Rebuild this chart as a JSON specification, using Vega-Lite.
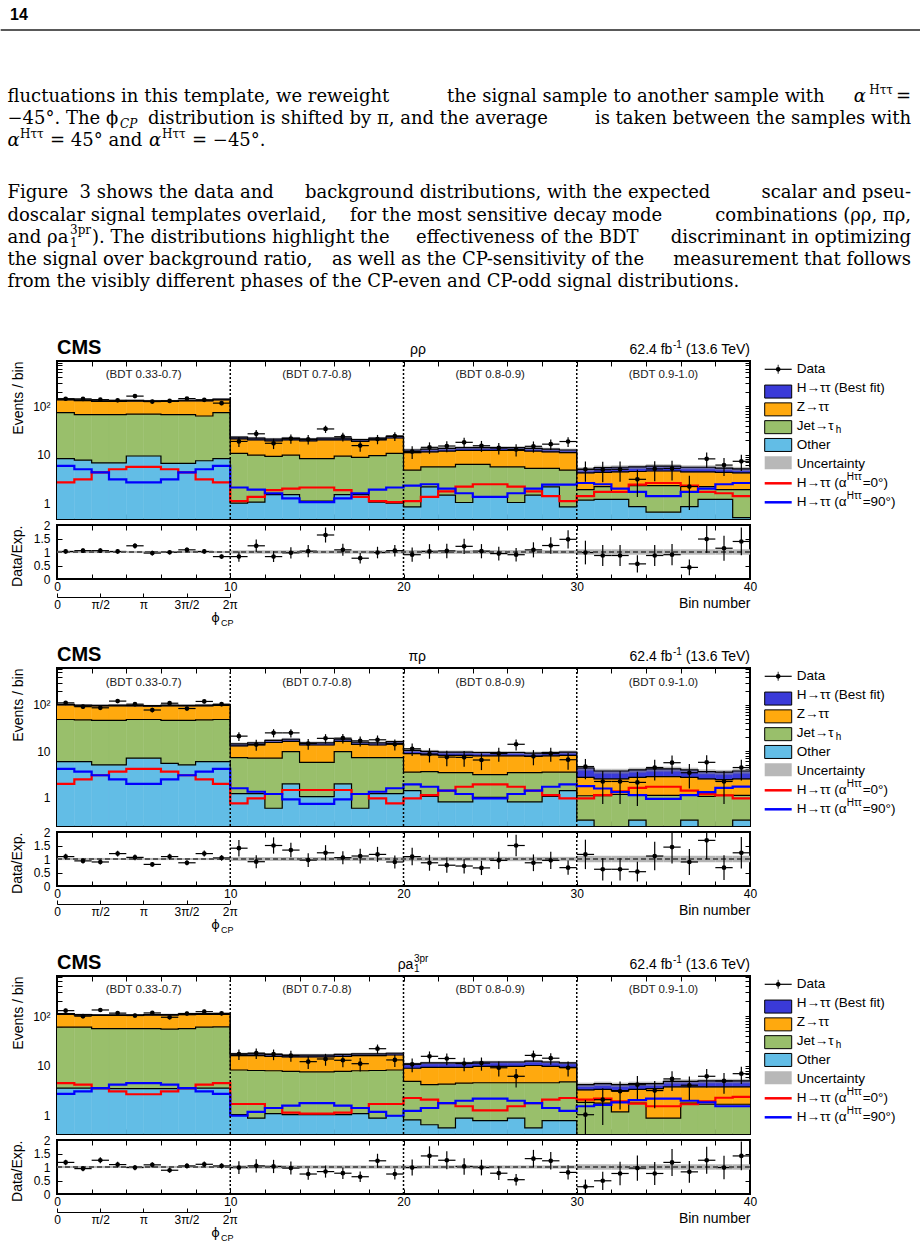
{
"$schema": "https://vega.github.io/schema/vega-lite/v6.json",
"padding": 0,
"background": "#ffffff",
"config": {
 "view": {"stroke": "#000000", "strokeWidth": 2},
 "font": "Liberation Sans",
 "axis": {"grid": false, "domain": false, "tickColor": "#000000", "tickWidth": 1, "tickSize": -5, "labelColor": "#000000", "labelFont": "Liberation Sans", "labelFontSize": 12, "titleFont": "Liberation Sans", "titleFontSize": 14, "titleFontWeight": "normal", "titleColor": "#000000", "labelOverlap": false, "labelFlush": false},
 "text": {"font": "Liberation Sans", "color": "#000000"}
},
"datasets": {
 "regions": [
  {"lo": 0, "hi": 10, "mid": 5, "label": "(BDT 0.33-0.7)"},
  {"lo": 10, "hi": 20, "mid": 15, "label": "(BDT 0.7-0.8)"},
  {"lo": 20, "hi": 30, "mid": 25, "label": "(BDT 0.8-0.9)"},
  {"lo": 30, "hi": 40, "mid": 35, "label": "(BDT 0.9-1.0)"}
 ],
 "legend": [
  {"i": 0, "kind": "data", "t": "Data"},
  {"i": 1, "kind": "sig", "t": "H→ττ (Best fit)"},
  {"i": 2, "kind": "z", "t": "Z→ττ"},
  {"i": 3, "kind": "jet", "t": "Jet→τ", "sub": "h"},
  {"i": 4, "kind": "other", "t": "Other"},
  {"i": 5, "kind": "unc", "t": "Uncertainty"},
  {"i": 6, "kind": "a0", "t": "H→ττ (α", "sup": "Hττ", "tail": "=0°)"},
  {"i": 7, "kind": "a90", "t": "H→ττ (α", "sup": "Hττ", "tail": "=90°)"}
 ],
 "hist": [
  {"p":"rr","b":0,"o":8.3,"j":74,"z":136,"h":140,"s0":2.67,"s90":5.9,"d":143,"r":1.02,"u":0.04},
  {"p":"rr","b":1,"o":7.7,"j":67,"z":131,"h":135,"s0":3.1,"s90":5.0,"d":142,"r":1.05,"u":0.04},
  {"p":"rr","b":2,"o":6.8,"j":67,"z":126,"h":130,"s0":4.3,"s90":4.3,"d":137,"r":1.05,"u":0.04},
  {"p":"rr","b":3,"o":6.8,"j":67,"z":126,"h":130,"s0":5.0,"s90":3.1,"d":133,"r":1.02,"u":0.04},
  {"p":"rr","b":4,"o":9.4,"j":69,"z":128,"h":132,"s0":5.6,"s90":2.67,"d":162,"r":1.23,"u":0.04},
  {"p":"rr","b":5,"o":9.4,"j":69,"z":126,"h":130,"s0":5.6,"s90":2.67,"d":125,"r":0.96,"u":0.04},
  {"p":"rr","b":6,"o":6.6,"j":67,"z":126,"h":130,"s0":5.0,"s90":3.1,"d":129,"r":0.99,"u":0.04},
  {"p":"rr","b":7,"o":6.6,"j":67,"z":129,"h":133,"s0":4.3,"s90":4.3,"d":144,"r":1.08,"u":0.04},
  {"p":"rr","b":8,"o":7.5,"j":63,"z":129,"h":133,"s0":3.1,"s90":5.0,"d":136,"r":1.02,"u":0.04},
  {"p":"rr","b":9,"o":8.3,"j":74,"z":136,"h":140,"s0":2.67,"s90":5.9,"d":116,"r":0.83,"u":0.04},
  {"p":"rr","b":10,"o":1.0,"j":10.6,"z":21.2,"h":23,"s0":1.1,"s90":2.1,"d":18.8,"r":0.83,"u":0.06},
  {"p":"rr","b":11,"o":1.05,"j":9.75,"z":20.2,"h":22,"s0":1.35,"s90":1.9,"d":27,"r":1.23,"u":0.06},
  {"p":"rr","b":12,"o":1.5,"j":9.2,"z":19.3,"h":21,"s0":1.85,"s90":1.6,"d":17.2,"r":0.83,"u":0.06},
  {"p":"rr","b":13,"o":1.5,"j":9.75,"z":20.2,"h":22,"s0":2.0,"s90":1.25,"d":21.5,"r":0.97,"u":0.06},
  {"p":"rr","b":14,"o":1.1,"j":8.3,"z":19.3,"h":21,"s0":2.1,"s90":1.05,"d":20.8,"r":1.03,"u":0.06},
  {"p":"rr","b":15,"o":1.1,"j":8.3,"z":20.2,"h":22,"s0":2.1,"s90":1.05,"d":34,"r":1.63,"u":0.06},
  {"p":"rr","b":16,"o":1.5,"j":9.3,"z":20.2,"h":22,"s0":1.85,"s90":1.25,"d":23.5,"r":1.08,"u":0.06},
  {"p":"rr","b":17,"o":1.5,"j":8.8,"z":18.9,"h":20.5,"s0":1.35,"s90":1.6,"d":15.4,"r":0.77,"u":0.06},
  {"p":"rr","b":18,"o":1.05,"j":9.6,"z":20.2,"h":22,"s0":1.1,"s90":1.9,"d":21,"r":0.98,"u":0.06},
  {"p":"rr","b":19,"o":1.0,"j":10.6,"z":22.1,"h":24,"s0":1.05,"s90":2.1,"d":24.2,"r":1.05,"u":0.06},
  {"p":"rr","b":20,"o":0.84,"j":4.8,"z":11,"h":12.5,"s0":1.1,"s90":2.3,"d":11.6,"r":0.9,"u":0.07},
  {"p":"rr","b":21,"o":2.17,"j":5.6,"z":11.4,"h":13,"s0":1.35,"s90":2.45,"d":14.2,"r":1.02,"u":0.07},
  {"p":"rr","b":22,"o":1.46,"j":5.6,"z":11.9,"h":13.5,"s0":1.75,"s90":2.0,"d":15.1,"r":1.04,"u":0.07},
  {"p":"rr","b":23,"o":1.03,"j":6.3,"z":12.3,"h":14,"s0":2.2,"s90":1.6,"d":18,"r":1.21,"u":0.07},
  {"p":"rr","b":24,"o":1.35,"j":6.3,"z":12.3,"h":14,"s0":2.45,"s90":1.35,"d":15.3,"r":1.03,"u":0.07},
  {"p":"rr","b":25,"o":1.35,"j":5.6,"z":12.3,"h":14,"s0":2.45,"s90":1.35,"d":13.8,"r":0.94,"u":0.07},
  {"p":"rr","b":26,"o":1.03,"j":5.6,"z":12.3,"h":14,"s0":2.2,"s90":1.6,"d":12.8,"r":0.9,"u":0.07},
  {"p":"rr","b":27,"o":1.46,"j":5.2,"z":11.9,"h":13.5,"s0":1.75,"s90":2.0,"d":14.9,"r":1.08,"u":0.07},
  {"p":"rr","b":28,"o":2.17,"j":5.2,"z":11.4,"h":13,"s0":1.4,"s90":2.4,"d":16.5,"r":1.24,"u":0.07},
  {"p":"rr","b":29,"o":0.84,"j":4.8,"z":11,"h":12.5,"s0":1.1,"s90":2.4,"d":18.7,"r":1.47,"u":0.07},
  {"p":"rr","b":30,"o":1.15,"j":1.9,"z":4.2,"h":5.0,"s0":1.4,"s90":2.6,"d":5.0,"r":0.98,"u":0.1},
  {"p":"rr","b":31,"o":1.2,"j":2.2,"z":4.3,"h":5.4,"s0":1.7,"s90":2.45,"d":4.9,"r":0.87,"u":0.1},
  {"p":"rr","b":32,"o":1.2,"j":1.7,"z":4.4,"h":5.5,"s0":1.7,"s90":2.0,"d":5.0,"r":0.87,"u":0.1},
  {"p":"rr","b":33,"o":0.85,"j":2.3,"z":4.5,"h":5.6,"s0":2.4,"s90":1.7,"d":3.1,"r":0.56,"u":0.1},
  {"p":"rr","b":34,"o":0.65,"j":2.3,"z":4.6,"h":5.8,"s0":2.6,"s90":1.4,"d":5.1,"r":0.87,"u":0.1},
  {"p":"rr","b":35,"o":0.65,"j":2.3,"z":4.6,"h":5.8,"s0":2.6,"s90":1.4,"d":5.2,"r":0.9,"u":0.1},
  {"p":"rr","b":36,"o":0.85,"j":1.7,"z":4.4,"h":5.5,"s0":2.3,"s90":1.7,"d":2.2,"r":0.43,"u":0.1},
  {"p":"rr","b":37,"o":1.2,"j":2.2,"z":4.4,"h":5.5,"s0":1.7,"s90":2.0,"d":8.2,"r":1.48,"u":0.1},
  {"p":"rr","b":38,"o":1.2,"j":1.9,"z":4.3,"h":5.3,"s0":1.6,"s90":2.45,"d":6.1,"r":1.14,"u":0.1},
  {"p":"rr","b":39,"o":0.5,"j":1.9,"z":4.2,"h":5.1,"s0":1.4,"s90":2.6,"d":7.3,"r":1.39,"u":0.1},
  {"p":"pr","b":0,"o":5.9,"j":48,"z":99,"h":102,"s0":1.95,"s90":4.1,"d":110,"r":1.09,"u":0.04},
  {"p":"pr","b":1,"o":5.9,"j":47,"z":95,"h":98,"s0":2.45,"s90":3.6,"d":91,"r":0.93,"u":0.04},
  {"p":"pr","b":2,"o":5.0,"j":46,"z":94,"h":97,"s0":3.0,"s90":3.0,"d":86,"r":0.89,"u":0.04},
  {"p":"pr","b":3,"o":5.0,"j":46,"z":95,"h":98,"s0":3.6,"s90":2.45,"d":120,"r":1.2,"u":0.04},
  {"p":"pr","b":4,"o":7.0,"j":48,"z":94,"h":97,"s0":4.1,"s90":1.95,"d":103,"r":1.06,"u":0.04},
  {"p":"pr","b":5,"o":7.0,"j":48,"z":93,"h":96,"s0":4.1,"s90":1.95,"d":77,"r":0.8,"u":0.04},
  {"p":"pr","b":6,"o":5.4,"j":46,"z":95,"h":98,"s0":3.6,"s90":2.45,"d":108,"r":1.09,"u":0.04},
  {"p":"pr","b":7,"o":5.0,"j":46,"z":94,"h":97,"s0":3.0,"s90":3.0,"d":83,"r":0.86,"u":0.04},
  {"p":"pr","b":8,"o":5.9,"j":47,"z":95,"h":98,"s0":2.45,"s90":3.6,"d":118,"r":1.2,"u":0.04},
  {"p":"pr","b":9,"o":5.9,"j":48,"z":97,"h":100,"s0":1.95,"s90":4.1,"d":103,"r":1.04,"u":0.04},
  {"p":"pr","b":10,"o":1.2,"j":7.2,"z":12.9,"h":14.3,"s0":0.74,"s90":1.57,"d":21,"r":1.4,"u":0.07},
  {"p":"pr","b":11,"o":1.2,"j":7.0,"z":13.5,"h":15,"s0":0.95,"s90":1.32,"d":13.8,"r":0.9,"u":0.07},
  {"p":"pr","b":12,"o":0.58,"j":7.0,"z":15.3,"h":17,"s0":1.18,"s90":1.18,"d":24.7,"r":1.5,"u":0.07},
  {"p":"pr","b":13,"o":1.95,"j":9.7,"z":16.2,"h":18,"s0":1.44,"s90":0.9,"d":24.7,"r":1.33,"u":0.07},
  {"p":"pr","b":14,"o":1.03,"j":5.7,"z":13.5,"h":15,"s0":1.44,"s90":0.72,"d":14.5,"r":0.96,"u":0.07},
  {"p":"pr","b":15,"o":1.03,"j":5.7,"z":13.5,"h":15,"s0":1.44,"s90":0.72,"d":18.8,"r":1.23,"u":0.07},
  {"p":"pr","b":16,"o":1.95,"j":9.7,"z":16.2,"h":18,"s0":1.44,"s90":0.9,"d":19,"r":1.05,"u":0.07},
  {"p":"pr","b":17,"o":0.58,"j":7.2,"z":14,"h":15.5,"s0":1.18,"s90":1.18,"d":16.6,"r":1.11,"u":0.07},
  {"p":"pr","b":18,"o":1.2,"j":7.2,"z":13.5,"h":15,"s0":0.95,"s90":1.32,"d":17.5,"r":1.17,"u":0.07},
  {"p":"pr","b":19,"o":1.2,"j":7.2,"z":14.4,"h":16,"s0":0.74,"s90":1.57,"d":14,"r":0.89,"u":0.07},
  {"p":"pr","b":20,"o":1.4,"j":3.5,"z":8.8,"h":10.3,"s0":0.95,"s90":1.91,"d":11.2,"r":1.09,"u":0.08},
  {"p":"pr","b":21,"o":1.05,"j":3.6,"z":8.3,"h":9.8,"s0":1.12,"s90":1.69,"d":8.6,"r":0.86,"u":0.08},
  {"p":"pr","b":22,"o":0.8,"j":3.4,"z":8.1,"h":9.5,"s0":1.39,"s90":1.39,"d":7.4,"r":0.77,"u":0.08},
  {"p":"pr","b":23,"o":0.8,"j":3.4,"z":8.1,"h":9.5,"s0":1.69,"s90":1.18,"d":7.3,"r":0.74,"u":0.08},
  {"p":"pr","b":24,"o":1.0,"j":3.1,"z":7.9,"h":9.3,"s0":1.91,"s90":0.95,"d":6.4,"r":0.67,"u":0.08},
  {"p":"pr","b":25,"o":1.0,"j":3.1,"z":7.9,"h":9.3,"s0":1.91,"s90":0.95,"d":8.8,"r":0.95,"u":0.08},
  {"p":"pr","b":26,"o":0.8,"j":3.4,"z":7.9,"h":9.3,"s0":1.69,"s90":1.18,"d":14,"r":1.5,"u":0.08},
  {"p":"pr","b":27,"o":0.8,"j":3.4,"z":7.7,"h":9.0,"s0":1.39,"s90":1.39,"d":7.7,"r":0.86,"u":0.08},
  {"p":"pr","b":28,"o":1.05,"j":3.5,"z":7.9,"h":9.3,"s0":1.12,"s90":1.69,"d":8.8,"r":0.95,"u":0.08},
  {"p":"pr","b":29,"o":1.4,"j":3.5,"z":8.1,"h":9.5,"s0":0.95,"s90":1.91,"d":6.5,"r":0.68,"u":0.08},
  {"p":"pr","b":30,"o":0.32,"j":1.08,"z":2.7,"h":4.3,"s0":0.95,"s90":1.75,"d":4.6,"r":1.17,"u":0.12},
  {"p":"pr","b":31,"o":0.2,"j":1.08,"z":2.5,"h":3.7,"s0":1.12,"s90":1.55,"d":2.2,"r":0.62,"u":0.12},
  {"p":"pr","b":32,"o":0.2,"j":1.15,"z":2.5,"h":3.7,"s0":1.35,"s90":1.3,"d":2.2,"r":0.62,"u":0.12},
  {"p":"pr","b":33,"o":0.32,"j":1.15,"z":2.7,"h":3.9,"s0":1.6,"s90":1.12,"d":2.1,"r":0.53,"u":0.12},
  {"p":"pr","b":34,"o":0.2,"j":1.1,"z":2.8,"h":4.1,"s0":1.69,"s90":0.93,"d":4.4,"r":1.11,"u":0.12},
  {"p":"pr","b":35,"o":0.2,"j":1.1,"z":2.8,"h":4.1,"s0":1.69,"s90":0.93,"d":5.6,"r":1.44,"u":0.12},
  {"p":"pr","b":36,"o":0.32,"j":1.15,"z":2.7,"h":3.9,"s0":1.4,"s90":1.12,"d":3.4,"r":0.89,"u":0.12},
  {"p":"pr","b":37,"o":0.2,"j":1.05,"z":2.5,"h":3.6,"s0":1.18,"s90":1.3,"d":5.7,"r":1.69,"u":0.12},
  {"p":"pr","b":38,"o":0.2,"j":1.1,"z":2.4,"h":3.5,"s0":1.1,"s90":1.6,"d":2.2,"r":0.68,"u":0.12},
  {"p":"pr","b":39,"o":0.32,"j":1.1,"z":2.5,"h":3.7,"s0":0.95,"s90":1.7,"d":4.4,"r":1.23,"u":0.12},
  {"p":"ra","b":0,"o":3.6,"j":60,"z":109,"h":112,"s0":4.5,"s90":2.75,"d":129,"r":1.17,"u":0.04},
  {"p":"ra","b":1,"o":3.6,"j":60,"z":105,"h":108,"s0":4.2,"s90":3.1,"d":100,"r":0.94,"u":0.04},
  {"p":"ra","b":2,"o":3.5,"j":56,"z":103,"h":106,"s0":3.6,"s90":3.6,"d":133,"r":1.25,"u":0.04},
  {"p":"ra","b":3,"o":3.5,"j":56,"z":103,"h":106,"s0":3.1,"s90":4.2,"d":115,"r":1.09,"u":0.04},
  {"p":"ra","b":4,"o":3.5,"j":56,"z":103,"h":106,"s0":2.7,"s90":4.5,"d":103,"r":0.98,"u":0.04},
  {"p":"ra","b":5,"o":3.5,"j":56,"z":105,"h":108,"s0":2.7,"s90":4.5,"d":116,"r":1.08,"u":0.04},
  {"p":"ra","b":6,"o":3.5,"j":55,"z":105,"h":108,"s0":3.1,"s90":4.2,"d":95,"r":0.88,"u":0.04},
  {"p":"ra","b":7,"o":3.5,"j":56,"z":107,"h":110,"s0":3.6,"s90":3.6,"d":113,"r":1.04,"u":0.04},
  {"p":"ra","b":8,"o":3.6,"j":60,"z":109,"h":112,"s0":4.2,"s90":3.1,"d":123,"r":1.1,"u":0.04},
  {"p":"ra","b":9,"o":3.6,"j":61,"z":109,"h":112,"s0":4.5,"s90":2.75,"d":114,"r":1.04,"u":0.04},
  {"p":"ra","b":10,"o":1.05,"j":8.3,"z":16.1,"h":17.5,"s0":1.72,"s90":1.0,"d":17.3,"r":0.98,"u":0.06},
  {"p":"ra","b":11,"o":0.9,"j":8.1,"z":16.1,"h":17.5,"s0":1.72,"s90":1.2,"d":18.1,"r":1.04,"u":0.06},
  {"p":"ra","b":12,"o":1.1,"j":8.0,"z":15.6,"h":17,"s0":1.43,"s90":1.43,"d":17.2,"r":1.02,"u":0.06},
  {"p":"ra","b":13,"o":1.05,"j":7.8,"z":15.2,"h":16.5,"s0":1.15,"s90":1.6,"d":16.1,"r":0.96,"u":0.06},
  {"p":"ra","b":14,"o":1.05,"j":7.6,"z":15.2,"h":16.5,"s0":1.1,"s90":1.8,"d":12.2,"r":0.74,"u":0.06},
  {"p":"ra","b":15,"o":1.05,"j":7.6,"z":15.2,"h":16.5,"s0":1.1,"s90":1.8,"d":13.8,"r":0.83,"u":0.06},
  {"p":"ra","b":16,"o":1.05,"j":7.8,"z":15.6,"h":17,"s0":1.15,"s90":1.6,"d":13,"r":0.77,"u":0.06},
  {"p":"ra","b":17,"o":1.1,"j":8.0,"z":16.1,"h":17.5,"s0":1.43,"s90":1.43,"d":11.1,"r":0.64,"u":0.06},
  {"p":"ra","b":18,"o":0.9,"j":8.1,"z":16.1,"h":17.5,"s0":1.72,"s90":1.2,"d":22.2,"r":1.23,"u":0.06},
  {"p":"ra","b":19,"o":1.0,"j":8.3,"z":16.6,"h":18,"s0":1.72,"s90":1.0,"d":13.2,"r":0.74,"u":0.06},
  {"p":"ra","b":20,"o":0.83,"j":4.9,"z":9.0,"h":11,"s0":2.27,"s90":1.25,"d":10.8,"r":0.98,"u":0.06},
  {"p":"ra","b":21,"o":0.66,"j":4.2,"z":9.4,"h":11.5,"s0":2.1,"s90":1.43,"d":15.6,"r":1.41,"u":0.06},
  {"p":"ra","b":22,"o":0.57,"j":4.3,"z":9.4,"h":11.5,"s0":1.8,"s90":1.8,"d":14.1,"r":1.25,"u":0.06},
  {"p":"ra","b":23,"o":0.9,"j":4.5,"z":9.4,"h":11.5,"s0":1.55,"s90":2.0,"d":11.2,"r":1.02,"u":0.06},
  {"p":"ra","b":24,"o":0.8,"j":4.6,"z":9.8,"h":12,"s0":1.28,"s90":2.2,"d":11.4,"r":0.98,"u":0.06},
  {"p":"ra","b":25,"o":0.8,"j":4.6,"z":9.8,"h":12,"s0":1.28,"s90":2.2,"d":9.2,"r":0.77,"u":0.06},
  {"p":"ra","b":26,"o":0.9,"j":4.6,"z":9.8,"h":12,"s0":1.55,"s90":2.0,"d":6.2,"r":0.53,"u":0.06},
  {"p":"ra","b":27,"o":0.57,"j":4.6,"z":10.2,"h":12.5,"s0":1.8,"s90":1.8,"d":16.3,"r":1.31,"u":0.06},
  {"p":"ra","b":28,"o":0.8,"j":4.6,"z":9.8,"h":12,"s0":2.1,"s90":1.43,"d":14.3,"r":1.23,"u":0.06},
  {"p":"ra","b":29,"o":0.8,"j":4.8,"z":9.4,"h":11.5,"s0":2.27,"s90":1.25,"d":9.2,"r":0.8,"u":0.06},
  {"p":"ra","b":30,"o":0.3,"j":1.85,"z":3.3,"h":4.2,"s0":2.1,"s90":1.55,"d":1.05,"r":0.27,"u":0.1},
  {"p":"ra","b":31,"o":0.3,"j":1.8,"z":3.4,"h":4.4,"s0":2.2,"s90":1.65,"d":2.1,"r":0.49,"u":0.1},
  {"p":"ra","b":32,"o":0.3,"j":1.2,"z":3.2,"h":4.2,"s0":1.95,"s90":1.85,"d":3.1,"r":0.76,"u":0.1},
  {"p":"ra","b":33,"o":0.3,"j":1.8,"z":3.4,"h":4.4,"s0":1.75,"s90":2.05,"d":4.2,"r":0.96,"u":0.1},
  {"p":"ra","b":34,"o":0.3,"j":0.9,"z":3.5,"h":4.4,"s0":1.55,"s90":2.2,"d":3.2,"r":0.76,"u":0.1},
  {"p":"ra","b":35,"o":0.3,"j":0.9,"z":3.8,"h":4.9,"s0":1.55,"s90":2.2,"d":5.5,"r":1.17,"u":0.1},
  {"p":"ra","b":36,"o":0.3,"j":1.8,"z":3.8,"h":4.9,"s0":1.7,"s90":2.0,"d":4.1,"r":0.82,"u":0.1},
  {"p":"ra","b":37,"o":0.3,"j":1.7,"z":3.8,"h":5.0,"s0":1.95,"s90":1.85,"d":6.2,"r":1.25,"u":0.1},
  {"p":"ra","b":38,"o":0.3,"j":1.7,"z":3.8,"h":5.0,"s0":2.3,"s90":1.55,"d":5.0,"r":0.98,"u":0.1},
  {"p":"ra","b":39,"o":0.3,"j":1.7,"z":3.8,"h":5.0,"s0":2.4,"s90":1.55,"d":7.0,"r":1.41,"u":0.1}
 ]
},
"spacing": 6,
"bounds": "flush",
"vconcat": [
 {
  "width": 863, "height": 341, "view": {"stroke": null},
  "data": {"values": [{}]},
  "layer": [
   {"mark": {"type": "text", "font": "Liberation Sans", "fontWeight": "bold", "fontSize": 16, "align": "left", "baseline": "alphabetic"},
    "encoding": {"x": {"datum": 10, "scale": {"domain": [57, 920], "nice": false, "zero": false}, "axis": null}, "y": {"datum": -2.6937, "scale": {"domain": [-3.5946, 11.766], "nice": false, "zero": false, "reverse": true}, "axis": null}, "text": {"value": "14"}}},
   {"mark": {"type": "rule", "color": "#222222", "strokeWidth": 1.3}, "encoding": {"x": {"datum": 0.7}, "x2": {"datum": 920}, "y": {"datum": -2.2432}}},
   {"mark": {"type": "text", "font": "DejaVu Serif", "fontSize": 18, "align": "left", "baseline": "alphabetic"}, "encoding": {"x": {"datum": 7.5}, "y": {"datum": 1}, "text": {"value": "fluctuations in this template, we reweight"}}},
   {"mark": {"type": "text", "font": "DejaVu Serif", "fontSize": 18, "align": "left", "baseline": "alphabetic"}, "encoding": {"x": {"datum": 447}, "y": {"datum": 1}, "text": {"value": "the signal sample to another sample with"}}},
   {"mark": {"type": "text", "font": "DejaVu Serif", "fontSize": 18, "fontStyle": "italic", "align": "right", "baseline": "alphabetic"}, "encoding": {"x": {"datum": 866}, "y": {"datum": 1}, "text": {"value": "α"}}},
   {"mark": {"type": "text", "font": "DejaVu Serif", "fontSize": 12, "align": "right", "baseline": "alphabetic", "dy": -8}, "encoding": {"x": {"datum": 893}, "y": {"datum": 1}, "text": {"value": "Hττ"}}},
   {"mark": {"type": "text", "font": "DejaVu Serif", "fontSize": 18, "align": "right", "baseline": "alphabetic"}, "encoding": {"x": {"datum": 911}, "y": {"datum": 1}, "text": {"value": "="}}},
   {"mark": {"type": "text", "font": "DejaVu Serif", "fontSize": 18, "align": "left", "baseline": "alphabetic"}, "encoding": {"x": {"datum": 7.5}, "y": {"datum": 2}, "text": {"value": "−45°. The ϕ"}}},
   {"mark": {"type": "text", "font": "DejaVu Serif", "fontSize": 12, "fontStyle": "italic", "align": "left", "baseline": "alphabetic", "dy": 4}, "encoding": {"x": {"datum": 120}, "y": {"datum": 2}, "text": {"value": "CP"}}},
   {"mark": {"type": "text", "font": "DejaVu Serif", "fontSize": 18, "align": "left", "baseline": "alphabetic"}, "encoding": {"x": {"datum": 148}, "y": {"datum": 2}, "text": {"value": "distribution is shifted by π, and the average"}}},
   {"mark": {"type": "text", "font": "DejaVu Serif", "fontSize": 18, "align": "right", "baseline": "alphabetic"}, "encoding": {"x": {"datum": 911}, "y": {"datum": 2}, "text": {"value": "is taken between the samples with"}}},
   {"mark": {"type": "text", "font": "DejaVu Serif", "fontSize": 18, "fontStyle": "italic", "align": "left", "baseline": "alphabetic"}, "encoding": {"x": {"datum": 7.5}, "y": {"datum": 3}, "text": {"value": "α"}}},
   {"mark": {"type": "text", "font": "DejaVu Serif", "fontSize": 12, "align": "left", "baseline": "alphabetic", "dy": -8}, "encoding": {"x": {"datum": 20}, "y": {"datum": 3}, "text": {"value": "Hττ"}}},
   {"mark": {"type": "text", "font": "DejaVu Serif", "fontSize": 18, "align": "left", "baseline": "alphabetic"}, "encoding": {"x": {"datum": 50}, "y": {"datum": 3}, "text": {"value": "= 45° and"}}},
   {"mark": {"type": "text", "font": "DejaVu Serif", "fontSize": 18, "fontStyle": "italic", "align": "left", "baseline": "alphabetic"}, "encoding": {"x": {"datum": 149}, "y": {"datum": 3}, "text": {"value": "α"}}},
   {"mark": {"type": "text", "font": "DejaVu Serif", "fontSize": 12, "align": "left", "baseline": "alphabetic", "dy": -8}, "encoding": {"x": {"datum": 162}, "y": {"datum": 3}, "text": {"value": "Hττ"}}},
   {"mark": {"type": "text", "font": "DejaVu Serif", "fontSize": 18, "align": "left", "baseline": "alphabetic"}, "encoding": {"x": {"datum": 192}, "y": {"datum": 3}, "text": {"value": "= −45°."}}},
   {"mark": {"type": "text", "font": "DejaVu Serif", "fontSize": 18, "align": "left", "baseline": "alphabetic"}, "encoding": {"x": {"datum": 7.5}, "y": {"datum": 5.338}, "text": {"value": "Figure\u00a0 3 shows the data and"}}},
   {"mark": {"type": "text", "font": "DejaVu Serif", "fontSize": 18, "align": "left", "baseline": "alphabetic"}, "encoding": {"x": {"datum": 305}, "y": {"datum": 5.338}, "text": {"value": "background distributions, with the expected"}}},
   {"mark": {"type": "text", "font": "DejaVu Serif", "fontSize": 18, "align": "right", "baseline": "alphabetic"}, "encoding": {"x": {"datum": 911}, "y": {"datum": 5.338}, "text": {"value": "scalar and pseu-"}}},
   {"mark": {"type": "text", "font": "DejaVu Serif", "fontSize": 18, "align": "left", "baseline": "alphabetic"}, "encoding": {"x": {"datum": 7.5}, "y": {"datum": 6.338}, "text": {"value": "doscalar signal templates overlaid,"}}},
   {"mark": {"type": "text", "font": "DejaVu Serif", "fontSize": 18, "align": "left", "baseline": "alphabetic"}, "encoding": {"x": {"datum": 350}, "y": {"datum": 6.338}, "text": {"value": "for the most sensitive decay mode"}}},
   {"mark": {"type": "text", "font": "DejaVu Serif", "fontSize": 18, "align": "right", "baseline": "alphabetic"}, "encoding": {"x": {"datum": 911}, "y": {"datum": 6.338}, "text": {"value": "combinations (ρρ, πρ,"}}},
   {"mark": {"type": "text", "font": "DejaVu Serif", "fontSize": 18, "align": "left", "baseline": "alphabetic"}, "encoding": {"x": {"datum": 7.5}, "y": {"datum": 7.338}, "text": {"value": "and ρa"}}},
   {"mark": {"type": "text", "font": "DejaVu Serif", "fontSize": 12, "align": "left", "baseline": "alphabetic", "dy": 4}, "encoding": {"x": {"datum": 70}, "y": {"datum": 7.338}, "text": {"value": "1"}}},
   {"mark": {"type": "text", "font": "DejaVu Serif", "fontSize": 12, "align": "left", "baseline": "alphabetic", "dy": -9}, "encoding": {"x": {"datum": 70}, "y": {"datum": 7.338}, "text": {"value": "3pr"}}},
   {"mark": {"type": "text", "font": "DejaVu Serif", "fontSize": 18, "align": "left", "baseline": "alphabetic"}, "encoding": {"x": {"datum": 92}, "y": {"datum": 7.338}, "text": {"value": "). The distributions highlight the"}}},
   {"mark": {"type": "text", "font": "DejaVu Serif", "fontSize": 18, "align": "left", "baseline": "alphabetic"}, "encoding": {"x": {"datum": 416}, "y": {"datum": 7.338}, "text": {"value": "effectiveness of the BDT"}}},
   {"mark": {"type": "text", "font": "DejaVu Serif", "fontSize": 18, "align": "right", "baseline": "alphabetic"}, "encoding": {"x": {"datum": 911}, "y": {"datum": 7.338}, "text": {"value": "discriminant in optimizing"}}},
   {"mark": {"type": "text", "font": "DejaVu Serif", "fontSize": 18, "align": "left", "baseline": "alphabetic"}, "encoding": {"x": {"datum": 7.5}, "y": {"datum": 8.338}, "text": {"value": "the signal over background ratio,"}}},
   {"mark": {"type": "text", "font": "DejaVu Serif", "fontSize": 18, "align": "left", "baseline": "alphabetic"}, "encoding": {"x": {"datum": 332}, "y": {"datum": 8.338}, "text": {"value": "as well as the CP-sensitivity of the"}}},
   {"mark": {"type": "text", "font": "DejaVu Serif", "fontSize": 18, "align": "right", "baseline": "alphabetic"}, "encoding": {"x": {"datum": 911}, "y": {"datum": 8.338}, "text": {"value": "measurement that follows"}}},
   {"mark": {"type": "text", "font": "DejaVu Serif", "fontSize": 18, "align": "left", "baseline": "alphabetic"}, "encoding": {"x": {"datum": 7.5}, "y": {"datum": 9.338}, "text": {"value": "from the visibly different phases of the CP-even and CP-odd signal distributions."}}}
  ]
 },
 {
  "width": 693, "height": 8, "view": {"stroke": null},
  "data": {"values": [{}]},
  "encoding": {"y": {"datum": 1, "scale": {"domain": [0, 8], "nice": false, "zero": false}, "axis": null}},
  "layer": [
   {"mark": {"type": "text", "fontWeight": "bold", "fontSize": 20, "align": "left", "baseline": "alphabetic"}, "encoding": {"x": {"datum": 0, "scale": {"domain": [0, 40], "nice": false, "zero": false}, "axis": null}, "text": {"value": "CMS"}}},
   {"mark": {"type": "text", "fontSize": 14, "align": "right", "baseline": "alphabetic"}, "encoding": {"x": {"datum": 21.3}, "text": {"value": "ρρ"}}},
   {"mark": {"type": "text", "fontSize": 14, "align": "right", "baseline": "alphabetic"}, "encoding": {"x": {"datum": 35.52}, "text": {"value": "62.4 fb"}}},
   {"mark": {"type": "text", "fontSize": 10, "align": "left", "baseline": "alphabetic", "dy": -6}, "encoding": {"x": {"datum": 35.55}, "text": {"value": "-1"}}},
   {"mark": {"type": "text", "fontSize": 14, "align": "right", "baseline": "alphabetic"}, "encoding": {"x": {"datum": 40}, "text": {"value": "(13.6 TeV)"}}}
  ]
 },
 {
  "width": 693, "height": 158,
  "data": {"name": "hist"},
  "transform": [
   {"filter": "datum.p == 'rr'"},
   {"calculate": "datum.b + 1", "as": "e"},
   {"calculate": "datum.b + 0.5", "as": "c"},
   {"calculate": "datum.h * (1 - datum.u)", "as": "hlo"},
   {"calculate": "datum.h * (1 + datum.u)", "as": "hhi"},
   {"calculate": "datum.d - sqrt(datum.d)", "as": "dlo"},
   {"calculate": "datum.d + sqrt(datum.d)", "as": "dhi"}
  ],
  "layer": [
   {"mark": {"type": "bar", "fill": "#62bde6", "stroke": "#62bde6", "strokeWidth": 0.5, "clip": true},
    "encoding": {
     "x": {"field": "b", "type": "quantitative", "scale": {"domain": [0, 40], "nice": false, "zero": false}, "axis": {"orient": "bottom", "values": [0,2,4,6,8,10,12,14,16,18,20,22,24,26,28,30,32,34,36,38,40], "labels": false, "title": null}},
     "x2": {"field": "e"},
     "y": {"field": "o", "type": "quantitative", "scale": {"type": "log", "domain": [0.47, 860], "nice": false}, "axis": {"orient": "left", "values": [0.5,0.6,0.7,0.8,0.9,1,2,3,4,5,6,7,8,9,10,20,30,40,50,60,70,80,90,100,200,300,400,500,600,700,800], "labelExpr": "datum.value == 1 ? '1' : datum.value == 10 ? '10' : datum.value == 100 ? '10²' : ''", "labelPadding": 12, "title": "Events / bin", "titleAngle": -90, "titleAlign": "right", "titleBaseline": "middle", "titleX": -39, "titleY": 0}},
     "y2": {"datum": 0.01}}},
   {"mark": {"type": "bar", "fill": "#99bf6b", "stroke": "#99bf6b", "strokeWidth": 0.5, "clip": true},
    "encoding": {
     "x": {"field": "b", "type": "quantitative", "scale": {"domain": [0, 40], "nice": false, "zero": false}, "axis": {"orient": "top", "values": [0,2,4,6,8,10,12,14,16,18,20,22,24,26,28,30,32,34,36,38,40], "labels": false, "title": null}},
     "x2": {"field": "e"},
     "y": {"field": "j", "type": "quantitative", "scale": {"type": "log", "domain": [0.47, 860], "nice": false}, "axis": {"orient": "right", "values": [0.5,0.6,0.7,0.8,0.9,1,2,3,4,5,6,7,8,9,10,20,30,40,50,60,70,80,90,100,200,300,400,500,600,700,800], "labels": false, "title": null}},
     "y2": {"field": "o"}}},
   {"mark": {"type": "bar", "fill": "#ffa90e", "stroke": "#ffa90e", "strokeWidth": 0.5, "clip": true},
    "encoding": {"x": {"field": "b", "type": "quantitative", "scale": {"domain": [0, 40], "nice": false, "zero": false}, "axis": null}, "x2": {"field": "e"}, "y": {"field": "z", "type": "quantitative", "scale": {"type": "log", "domain": [0.47, 860], "nice": false}, "axis": null}, "y2": {"field": "j"}}},
   {"mark": {"type": "bar", "fill": "#3a3ad8", "stroke": "#3a3ad8", "strokeWidth": 0.5, "clip": true},
    "encoding": {"x": {"field": "b", "type": "quantitative", "scale": {"domain": [0, 40], "nice": false, "zero": false}, "axis": null}, "x2": {"field": "e"}, "y": {"field": "h", "type": "quantitative", "scale": {"type": "log", "domain": [0.47, 860], "nice": false}, "axis": null}, "y2": {"field": "z"}}},
   {"mark": {"type": "bar", "fill": "#8f8f8f", "opacity": 0.55, "clip": true},
    "encoding": {"x": {"field": "b", "type": "quantitative", "scale": {"domain": [0, 40], "nice": false, "zero": false}, "axis": null}, "x2": {"field": "e"}, "y": {"field": "hhi", "type": "quantitative", "scale": {"type": "log", "domain": [0.47, 860], "nice": false}, "axis": null}, "y2": {"field": "hlo"}}},
   {"transform": [{"fold": ["b", "e"], "as": ["k", "xe"]}],
    "encoding": {"x": {"field": "xe", "type": "quantitative", "scale": {"domain": [0, 40], "nice": false, "zero": false}, "axis": null}, "order": [{"field": "xe", "type": "quantitative"}, {"field": "k", "type": "ordinal", "sort": "descending"}]},
    "layer": [
     {"mark": {"type": "line", "color": "#000000", "strokeWidth": 1.2, "clip": true}, "encoding": {"y": {"field": "o", "type": "quantitative", "scale": {"type": "log", "domain": [0.47, 860], "nice": false}, "axis": null}}},
     {"mark": {"type": "line", "color": "#000000", "strokeWidth": 1.2, "clip": true}, "encoding": {"y": {"field": "j", "type": "quantitative"}}},
     {"mark": {"type": "line", "color": "#000000", "strokeWidth": 1.2, "clip": true}, "encoding": {"y": {"field": "z", "type": "quantitative"}}},
     {"mark": {"type": "line", "color": "#000000", "strokeWidth": 1.2, "clip": true}, "encoding": {"y": {"field": "h", "type": "quantitative"}}},
     {"mark": {"type": "line", "color": "#ff0000", "strokeWidth": 2.2, "clip": true}, "encoding": {"y": {"field": "s0", "type": "quantitative"}}},
     {"mark": {"type": "line", "color": "#0000ff", "strokeWidth": 2.2, "clip": true}, "encoding": {"y": {"field": "s90", "type": "quantitative"}}}
    ]},
   {"mark": {"type": "rule", "color": "#000000", "strokeWidth": 1.2, "clip": true},
    "encoding": {"x": {"field": "b", "type": "quantitative", "scale": {"domain": [0, 40], "nice": false, "zero": false}, "axis": null}, "x2": {"field": "e"}, "y": {"field": "d", "type": "quantitative", "scale": {"type": "log", "domain": [0.47, 860], "nice": false}, "axis": null}}},
   {"mark": {"type": "rule", "color": "#000000", "strokeWidth": 1.2, "clip": true},
    "encoding": {"x": {"field": "c", "type": "quantitative", "scale": {"domain": [0, 40], "nice": false, "zero": false}, "axis": null}, "y": {"field": "dlo", "type": "quantitative", "scale": {"type": "log", "domain": [0.47, 860], "nice": false}, "axis": null}, "y2": {"field": "dhi"}}},
   {"mark": {"type": "point", "filled": true, "color": "#000000", "size": 22, "opacity": 1, "clip": true},
    "encoding": {"x": {"field": "c", "type": "quantitative", "scale": {"domain": [0, 40], "nice": false, "zero": false}, "axis": null}, "y": {"field": "d", "type": "quantitative", "scale": {"type": "log", "domain": [0.47, 860], "nice": false}, "axis": null}}},
   {"data": {"name": "regions"}, "transform": [{"filter": "datum.lo > 0"}],
    "mark": {"type": "rule", "color": "#000000", "strokeWidth": 1.5, "strokeDash": [2, 2]},
    "encoding": {"x": {"field": "lo", "type": "quantitative", "scale": {"domain": [0, 40], "nice": false, "zero": false}, "axis": null}}},
   {"data": {"name": "regions"},
    "mark": {"type": "text", "fontSize": 11.5, "color": "#222222", "baseline": "middle"},
    "encoding": {"x": {"field": "mid", "type": "quantitative", "scale": {"domain": [0, 40], "nice": false, "zero": false}, "axis": null}, "y": {"datum": 436, "scale": {"type": "log", "domain": [0.47, 860], "nice": false}, "axis": null}, "text": {"field": "label"}}},
   {"data": {"name": "legend"}, "transform": [{"filter": "datum.i >= 1 && datum.i <= 4"}], "mark": {"type": "bar", "size": 13, "stroke": "#000000", "strokeWidth": 1},
    "encoding": {"x": {"datum": 765, "scale": {"domain": [57.3, 750.3], "nice": false, "zero": false}, "axis": null}, "x2": {"datum": 792}, "y": {"field": "i", "type": "quantitative", "scale": {"domain": [-0.4368, 7.879], "nice": false, "zero": false, "reverse": true}, "axis": null},
     "color": {"field": "kind", "type": "nominal", "scale": {"domain": ["sig", "z", "jet", "other"], "range": ["#3a3ad8", "#ffa90e", "#99bf6b", "#62bde6"]}, "legend": null}}},
   {"data": {"name": "legend"}, "transform": [{"filter": "datum.i == 5"}], "mark": {"type": "bar", "size": 13, "color": "#b8b8b8"},
    "encoding": {"x": {"datum": 765, "scale": {"domain": [57.3, 750.3], "nice": false, "zero": false}, "axis": null}, "x2": {"datum": 792}, "y": {"field": "i", "type": "quantitative", "scale": {"domain": [-0.4368, 7.879], "nice": false, "zero": false, "reverse": true}, "axis": null}}},
   {"data": {"name": "legend"}, "transform": [{"filter": "datum.i == 0"}], "mark": {"type": "rule", "color": "#000000", "strokeWidth": 1.2},
    "encoding": {"x": {"datum": 765, "scale": {"domain": [57.3, 750.3], "nice": false, "zero": false}, "axis": null}, "x2": {"datum": 792}, "y": {"field": "i", "type": "quantitative", "scale": {"domain": [-0.4368, 7.879], "nice": false, "zero": false, "reverse": true}, "axis": null}}},
   {"data": {"name": "legend"}, "transform": [{"filter": "datum.i == 0"}], "mark": {"type": "tick", "orient": "vertical", "size": 9, "thickness": 1.2, "color": "#000000"},
    "encoding": {"x": {"datum": 778.5, "scale": {"domain": [57.3, 750.3], "nice": false, "zero": false}, "axis": null}, "y": {"field": "i", "type": "quantitative", "scale": {"domain": [-0.4368, 7.879], "nice": false, "zero": false, "reverse": true}, "axis": null}}},
   {"data": {"name": "legend"}, "transform": [{"filter": "datum.i == 0"}], "mark": {"type": "point", "filled": true, "size": 22, "color": "#000000", "opacity": 1},
    "encoding": {"x": {"datum": 778.5, "scale": {"domain": [57.3, 750.3], "nice": false, "zero": false}, "axis": null}, "y": {"field": "i", "type": "quantitative", "scale": {"domain": [-0.4368, 7.879], "nice": false, "zero": false, "reverse": true}, "axis": null}}},
   {"data": {"name": "legend"}, "transform": [{"filter": "datum.i >= 6"}], "mark": {"type": "rule", "strokeWidth": 2.5},
    "encoding": {"x": {"datum": 765, "scale": {"domain": [57.3, 750.3], "nice": false, "zero": false}, "axis": null}, "x2": {"datum": 792}, "y": {"field": "i", "type": "quantitative", "scale": {"domain": [-0.4368, 7.879], "nice": false, "zero": false, "reverse": true}, "axis": null},
     "color": {"field": "kind", "type": "nominal", "scale": {"domain": ["a0", "a90"], "range": ["#ff0000", "#0000ff"]}, "legend": null}}},
   {"data": {"name": "legend"}, "mark": {"type": "text", "align": "left", "baseline": "middle", "fontSize": 13.5},
    "encoding": {"x": {"datum": 797, "scale": {"domain": [57.3, 750.3], "nice": false, "zero": false}, "axis": null}, "y": {"field": "i", "type": "quantitative", "scale": {"domain": [-0.4368, 7.879], "nice": false, "zero": false, "reverse": true}, "axis": null}, "text": {"field": "t"}}},
   {"data": {"name": "legend"}, "transform": [{"filter": "datum.sup"}], "mark": {"type": "text", "align": "left", "baseline": "middle", "fontSize": 10, "dy": -6},
    "encoding": {"x": {"datum": 847, "scale": {"domain": [57.3, 750.3], "nice": false, "zero": false}, "axis": null}, "y": {"field": "i", "type": "quantitative", "scale": {"domain": [-0.4368, 7.879], "nice": false, "zero": false, "reverse": true}, "axis": null}, "text": {"field": "sup"}}},
   {"data": {"name": "legend"}, "transform": [{"filter": "datum.tail"}], "mark": {"type": "text", "align": "left", "baseline": "middle", "fontSize": 13.5},
    "encoding": {"x": {"datum": 863, "scale": {"domain": [57.3, 750.3], "nice": false, "zero": false}, "axis": null}, "y": {"field": "i", "type": "quantitative", "scale": {"domain": [-0.4368, 7.879], "nice": false, "zero": false, "reverse": true}, "axis": null}, "text": {"field": "tail"}}},
   {"data": {"name": "legend"}, "transform": [{"filter": "datum.sub"}], "mark": {"type": "text", "align": "left", "baseline": "middle", "fontSize": 10, "dy": 4},
    "encoding": {"x": {"datum": 836, "scale": {"domain": [57.3, 750.3], "nice": false, "zero": false}, "axis": null}, "y": {"field": "i", "type": "quantitative", "scale": {"domain": [-0.4368, 7.879], "nice": false, "zero": false, "reverse": true}, "axis": null}, "text": {"field": "sub"}}}
  ],
  "resolve": {"scale": {"x": "independent", "y": "independent", "color": "independent"}, "axis": {"x": "independent", "y": "independent"}}
 },
 {
  "width": 693, "height": 54,
  "data": {"name": "hist"},
  "transform": [
   {"filter": "datum.p == 'rr'"},
   {"calculate": "datum.b + 1", "as": "e"},
   {"calculate": "datum.b + 0.5", "as": "c"},
   {"calculate": "1 - datum.u", "as": "ulo"},
   {"calculate": "1 + datum.u", "as": "uhi"},
   {"calculate": "datum.r - datum.r / sqrt(datum.d)", "as": "rlo"},
   {"calculate": "datum.r + datum.r / sqrt(datum.d)", "as": "rhi"}
  ],
  "layer": [
   {"mark": {"type": "bar", "fill": "#b5b5b5", "clip": true},
    "encoding": {
     "x": {"field": "b", "type": "quantitative", "scale": {"domain": [0, 40], "nice": false, "zero": false}, "axis": {"orient": "bottom", "values": [0,2,4,6,8,10,12,14,16,18,20,22,24,26,28,30,32,34,36,38,40], "labelExpr": "datum.value % 10 == 0 ? '' + datum.value : ''", "labelPadding": 7, "title": "Bin number", "titleAngle": 0, "titleAlign": "right", "titleBaseline": "middle", "titleX": 693, "titleY": 24}},
     "x2": {"field": "e"},
     "y": {"field": "ulo", "type": "quantitative", "scale": {"domain": [0, 2], "nice": false, "zero": false}, "axis": {"orient": "left", "values": [0, 0.5, 1, 1.5, 2], "format": "~g", "labelPadding": 12, "title": "Data/Exp.", "titleAngle": -90, "titleAlign": "right", "titleBaseline": "middle", "titleX": -40, "titleY": 0}},
     "y2": {"field": "uhi"}}},
   {"mark": {"type": "rule", "color": "#000000", "strokeWidth": 1.2, "clip": true},
    "encoding": {
     "x": {"field": "b", "type": "quantitative", "scale": {"domain": [0, 40], "nice": false, "zero": false}, "axis": {"orient": "top", "values": [0,2,4,6,8,10,12,14,16,18,20,22,24,26,28,30,32,34,36,38,40], "labels": false, "title": null}},
     "x2": {"field": "e"},
     "y": {"field": "r", "type": "quantitative", "scale": {"domain": [0, 2], "nice": false, "zero": false}, "axis": {"orient": "right", "values": [0, 0.5, 1, 1.5, 2], "labels": false, "title": null}}}},
   {"mark": {"type": "rule", "color": "#555555", "strokeDash": [5, 3], "strokeWidth": 1.4},
    "encoding": {"y": {"datum": 1, "scale": {"domain": [0, 2], "nice": false, "zero": false}, "axis": null}}},
   {"mark": {"type": "rule", "color": "#000000", "strokeWidth": 1.2, "clip": true},
    "encoding": {"x": {"field": "c", "type": "quantitative", "scale": {"domain": [0, 40], "nice": false, "zero": false}, "axis": null}, "y": {"field": "rlo", "type": "quantitative", "scale": {"domain": [0, 2], "nice": false, "zero": false}, "axis": null}, "y2": {"field": "rhi"}}},
   {"mark": {"type": "point", "filled": true, "color": "#000000", "size": 22, "opacity": 1, "clip": true},
    "encoding": {"x": {"field": "c", "type": "quantitative", "scale": {"domain": [0, 40], "nice": false, "zero": false}, "axis": null}, "y": {"field": "r", "type": "quantitative", "scale": {"domain": [0, 2], "nice": false, "zero": false}, "axis": null}}},
   {"data": {"name": "regions"}, "transform": [{"filter": "datum.lo > 0"}],
    "mark": {"type": "rule", "color": "#000000", "strokeWidth": 1.5, "strokeDash": [2, 2]},
    "encoding": {"x": {"field": "lo", "type": "quantitative", "scale": {"domain": [0, 40], "nice": false, "zero": false}, "axis": null}}}
  ],
  "resolve": {"axis": {"x": "independent", "y": "independent"}}
 },
 {
  "width": 172.7, "height": 12, "view": {"stroke": null},
  "data": {"values": [{}]},
  "layer": [
   {"mark": {"type": "text"}, "encoding": {"x": {"datum": 0, "scale": {"domain": [0, 6.2832], "nice": false, "zero": false}, "axis": {"orient": "bottom", "values": [0, 1.5708, 3.1416, 4.7124, 6.2832], "labelExpr": "['0','π/2','π','3π/2','2π'][round(datum.value / 1.5708)]", "domain": true, "domainColor": "#000000", "domainWidth": 1, "tickSize": -4, "labelPadding": 6, "title": null}}, "text": {"value": ""}}},
   {"mark": {"type": "text", "fontSize": 13, "font": "DejaVu Sans", "baseline": "middle"}, "encoding": {"x": {"datum": 5.77, "scale": {"domain": [0, 6.2832], "nice": false, "zero": false}, "axis": null}, "y": {"datum": -1.75, "scale": {"domain": [0, 1], "nice": false, "zero": false}, "axis": null}, "text": {"value": "ϕ"}}},
   {"mark": {"type": "text", "fontSize": 9, "align": "left", "baseline": "middle"}, "encoding": {"x": {"datum": 5.97, "scale": {"domain": [0, 6.2832], "nice": false, "zero": false}, "axis": null}, "y": {"datum": -2.167, "scale": {"domain": [0, 1], "nice": false, "zero": false}, "axis": null}, "text": {"value": "CP"}}}
  ],
  "resolve": {"axis": {"x": "independent", "y": "independent"}}
 },
 {
  "width": 693, "height": 59, "view": {"stroke": null},
  "data": {"values": [{}]},
  "encoding": {"y": {"datum": 1, "scale": {"domain": [0, 59], "nice": false, "zero": false}, "axis": null}},
  "layer": [
   {"mark": {"type": "text", "fontWeight": "bold", "fontSize": 20, "align": "left", "baseline": "alphabetic"}, "encoding": {"x": {"datum": 0, "scale": {"domain": [0, 40], "nice": false, "zero": false}, "axis": null}, "text": {"value": "CMS"}}},
   {"mark": {"type": "text", "fontSize": 14, "align": "right", "baseline": "alphabetic"}, "encoding": {"x": {"datum": 21.3}, "text": {"value": "πρ"}}},
   {"mark": {"type": "text", "fontSize": 14, "align": "right", "baseline": "alphabetic"}, "encoding": {"x": {"datum": 35.52}, "text": {"value": "62.4 fb"}}},
   {"mark": {"type": "text", "fontSize": 10, "align": "left", "baseline": "alphabetic", "dy": -6}, "encoding": {"x": {"datum": 35.55}, "text": {"value": "-1"}}},
   {"mark": {"type": "text", "fontSize": 14, "align": "right", "baseline": "alphabetic"}, "encoding": {"x": {"datum": 40}, "text": {"value": "(13.6 TeV)"}}}
  ]
 },
 {
  "width": 693, "height": 158,
  "data": {"name": "hist"},
  "transform": [
   {"filter": "datum.p == 'pr'"},
   {"calculate": "datum.b + 1", "as": "e"},
   {"calculate": "datum.b + 0.5", "as": "c"},
   {"calculate": "datum.h * (1 - datum.u)", "as": "hlo"},
   {"calculate": "datum.h * (1 + datum.u)", "as": "hhi"},
   {"calculate": "datum.d - sqrt(datum.d)", "as": "dlo"},
   {"calculate": "datum.d + sqrt(datum.d)", "as": "dhi"}
  ],
  "layer": [
   {"mark": {"type": "bar", "fill": "#62bde6", "stroke": "#62bde6", "strokeWidth": 0.5, "clip": true},
    "encoding": {
     "x": {"field": "b", "type": "quantitative", "scale": {"domain": [0, 40], "nice": false, "zero": false}, "axis": {"orient": "bottom", "values": [0,2,4,6,8,10,12,14,16,18,20,22,24,26,28,30,32,34,36,38,40], "labels": false, "title": null}},
     "x2": {"field": "e"},
     "y": {"field": "o", "type": "quantitative", "scale": {"type": "log", "domain": [0.24, 623], "nice": false}, "axis": {"orient": "left", "values": [0.3,0.4,0.5,0.6,0.7,0.8,0.9,1,2,3,4,5,6,7,8,9,10,20,30,40,50,60,70,80,90,100,200,300,400,500,600], "labelExpr": "datum.value == 1 ? '1' : datum.value == 10 ? '10' : datum.value == 100 ? '10²' : ''", "labelPadding": 12, "title": "Events / bin", "titleAngle": -90, "titleAlign": "right", "titleBaseline": "middle", "titleX": -39, "titleY": 0}},
     "y2": {"datum": 0.01}}},
   {"mark": {"type": "bar", "fill": "#99bf6b", "stroke": "#99bf6b", "strokeWidth": 0.5, "clip": true},
    "encoding": {
     "x": {"field": "b", "type": "quantitative", "scale": {"domain": [0, 40], "nice": false, "zero": false}, "axis": {"orient": "top", "values": [0,2,4,6,8,10,12,14,16,18,20,22,24,26,28,30,32,34,36,38,40], "labels": false, "title": null}},
     "x2": {"field": "e"},
     "y": {"field": "j", "type": "quantitative", "scale": {"type": "log", "domain": [0.24, 623], "nice": false}, "axis": {"orient": "right", "values": [0.3,0.4,0.5,0.6,0.7,0.8,0.9,1,2,3,4,5,6,7,8,9,10,20,30,40,50,60,70,80,90,100,200,300,400,500,600], "labels": false, "title": null}},
     "y2": {"field": "o"}}},
   {"mark": {"type": "bar", "fill": "#ffa90e", "stroke": "#ffa90e", "strokeWidth": 0.5, "clip": true},
    "encoding": {"x": {"field": "b", "type": "quantitative", "scale": {"domain": [0, 40], "nice": false, "zero": false}, "axis": null}, "x2": {"field": "e"}, "y": {"field": "z", "type": "quantitative", "scale": {"type": "log", "domain": [0.24, 623], "nice": false}, "axis": null}, "y2": {"field": "j"}}},
   {"mark": {"type": "bar", "fill": "#3a3ad8", "stroke": "#3a3ad8", "strokeWidth": 0.5, "clip": true},
    "encoding": {"x": {"field": "b", "type": "quantitative", "scale": {"domain": [0, 40], "nice": false, "zero": false}, "axis": null}, "x2": {"field": "e"}, "y": {"field": "h", "type": "quantitative", "scale": {"type": "log", "domain": [0.24, 623], "nice": false}, "axis": null}, "y2": {"field": "z"}}},
   {"mark": {"type": "bar", "fill": "#8f8f8f", "opacity": 0.55, "clip": true},
    "encoding": {"x": {"field": "b", "type": "quantitative", "scale": {"domain": [0, 40], "nice": false, "zero": false}, "axis": null}, "x2": {"field": "e"}, "y": {"field": "hhi", "type": "quantitative", "scale": {"type": "log", "domain": [0.24, 623], "nice": false}, "axis": null}, "y2": {"field": "hlo"}}},
   {"transform": [{"fold": ["b", "e"], "as": ["k", "xe"]}],
    "encoding": {"x": {"field": "xe", "type": "quantitative", "scale": {"domain": [0, 40], "nice": false, "zero": false}, "axis": null}, "order": [{"field": "xe", "type": "quantitative"}, {"field": "k", "type": "ordinal", "sort": "descending"}]},
    "layer": [
     {"mark": {"type": "line", "color": "#000000", "strokeWidth": 1.2, "clip": true}, "encoding": {"y": {"field": "o", "type": "quantitative", "scale": {"type": "log", "domain": [0.24, 623], "nice": false}, "axis": null}}},
     {"mark": {"type": "line", "color": "#000000", "strokeWidth": 1.2, "clip": true}, "encoding": {"y": {"field": "j", "type": "quantitative"}}},
     {"mark": {"type": "line", "color": "#000000", "strokeWidth": 1.2, "clip": true}, "encoding": {"y": {"field": "z", "type": "quantitative"}}},
     {"mark": {"type": "line", "color": "#000000", "strokeWidth": 1.2, "clip": true}, "encoding": {"y": {"field": "h", "type": "quantitative"}}},
     {"mark": {"type": "line", "color": "#ff0000", "strokeWidth": 2.2, "clip": true}, "encoding": {"y": {"field": "s0", "type": "quantitative"}}},
     {"mark": {"type": "line", "color": "#0000ff", "strokeWidth": 2.2, "clip": true}, "encoding": {"y": {"field": "s90", "type": "quantitative"}}}
    ]},
   {"mark": {"type": "rule", "color": "#000000", "strokeWidth": 1.2, "clip": true},
    "encoding": {"x": {"field": "b", "type": "quantitative", "scale": {"domain": [0, 40], "nice": false, "zero": false}, "axis": null}, "x2": {"field": "e"}, "y": {"field": "d", "type": "quantitative", "scale": {"type": "log", "domain": [0.24, 623], "nice": false}, "axis": null}}},
   {"mark": {"type": "rule", "color": "#000000", "strokeWidth": 1.2, "clip": true},
    "encoding": {"x": {"field": "c", "type": "quantitative", "scale": {"domain": [0, 40], "nice": false, "zero": false}, "axis": null}, "y": {"field": "dlo", "type": "quantitative", "scale": {"type": "log", "domain": [0.24, 623], "nice": false}, "axis": null}, "y2": {"field": "dhi"}}},
   {"mark": {"type": "point", "filled": true, "color": "#000000", "size": 22, "opacity": 1, "clip": true},
    "encoding": {"x": {"field": "c", "type": "quantitative", "scale": {"domain": [0, 40], "nice": false, "zero": false}, "axis": null}, "y": {"field": "d", "type": "quantitative", "scale": {"type": "log", "domain": [0.24, 623], "nice": false}, "axis": null}}},
   {"data": {"name": "regions"}, "transform": [{"filter": "datum.lo > 0"}],
    "mark": {"type": "rule", "color": "#000000", "strokeWidth": 1.5, "strokeDash": [2, 2]},
    "encoding": {"x": {"field": "lo", "type": "quantitative", "scale": {"domain": [0, 40], "nice": false, "zero": false}, "axis": null}}},
   {"data": {"name": "regions"},
    "mark": {"type": "text", "fontSize": 11.5, "color": "#222222", "baseline": "middle"},
    "encoding": {"x": {"field": "mid", "type": "quantitative", "scale": {"domain": [0, 40], "nice": false, "zero": false}, "axis": null}, "y": {"datum": 295, "scale": {"type": "log", "domain": [0.24, 623], "nice": false}, "axis": null}, "text": {"field": "label"}}},
   {"data": {"name": "legend"}, "transform": [{"filter": "datum.i >= 1 && datum.i <= 4"}], "mark": {"type": "bar", "size": 13, "stroke": "#000000", "strokeWidth": 1},
    "encoding": {"x": {"datum": 765, "scale": {"domain": [57.3, 750.3], "nice": false, "zero": false}, "axis": null}, "x2": {"datum": 792}, "y": {"field": "i", "type": "quantitative", "scale": {"domain": [-0.4368, 7.879], "nice": false, "zero": false, "reverse": true}, "axis": null},
     "color": {"field": "kind", "type": "nominal", "scale": {"domain": ["sig", "z", "jet", "other"], "range": ["#3a3ad8", "#ffa90e", "#99bf6b", "#62bde6"]}, "legend": null}}},
   {"data": {"name": "legend"}, "transform": [{"filter": "datum.i == 5"}], "mark": {"type": "bar", "size": 13, "color": "#b8b8b8"},
    "encoding": {"x": {"datum": 765, "scale": {"domain": [57.3, 750.3], "nice": false, "zero": false}, "axis": null}, "x2": {"datum": 792}, "y": {"field": "i", "type": "quantitative", "scale": {"domain": [-0.4368, 7.879], "nice": false, "zero": false, "reverse": true}, "axis": null}}},
   {"data": {"name": "legend"}, "transform": [{"filter": "datum.i == 0"}], "mark": {"type": "rule", "color": "#000000", "strokeWidth": 1.2},
    "encoding": {"x": {"datum": 765, "scale": {"domain": [57.3, 750.3], "nice": false, "zero": false}, "axis": null}, "x2": {"datum": 792}, "y": {"field": "i", "type": "quantitative", "scale": {"domain": [-0.4368, 7.879], "nice": false, "zero": false, "reverse": true}, "axis": null}}},
   {"data": {"name": "legend"}, "transform": [{"filter": "datum.i == 0"}], "mark": {"type": "tick", "orient": "vertical", "size": 9, "thickness": 1.2, "color": "#000000"},
    "encoding": {"x": {"datum": 778.5, "scale": {"domain": [57.3, 750.3], "nice": false, "zero": false}, "axis": null}, "y": {"field": "i", "type": "quantitative", "scale": {"domain": [-0.4368, 7.879], "nice": false, "zero": false, "reverse": true}, "axis": null}}},
   {"data": {"name": "legend"}, "transform": [{"filter": "datum.i == 0"}], "mark": {"type": "point", "filled": true, "size": 22, "color": "#000000", "opacity": 1},
    "encoding": {"x": {"datum": 778.5, "scale": {"domain": [57.3, 750.3], "nice": false, "zero": false}, "axis": null}, "y": {"field": "i", "type": "quantitative", "scale": {"domain": [-0.4368, 7.879], "nice": false, "zero": false, "reverse": true}, "axis": null}}},
   {"data": {"name": "legend"}, "transform": [{"filter": "datum.i >= 6"}], "mark": {"type": "rule", "strokeWidth": 2.5},
    "encoding": {"x": {"datum": 765, "scale": {"domain": [57.3, 750.3], "nice": false, "zero": false}, "axis": null}, "x2": {"datum": 792}, "y": {"field": "i", "type": "quantitative", "scale": {"domain": [-0.4368, 7.879], "nice": false, "zero": false, "reverse": true}, "axis": null},
     "color": {"field": "kind", "type": "nominal", "scale": {"domain": ["a0", "a90"], "range": ["#ff0000", "#0000ff"]}, "legend": null}}},
   {"data": {"name": "legend"}, "mark": {"type": "text", "align": "left", "baseline": "middle", "fontSize": 13.5},
    "encoding": {"x": {"datum": 797, "scale": {"domain": [57.3, 750.3], "nice": false, "zero": false}, "axis": null}, "y": {"field": "i", "type": "quantitative", "scale": {"domain": [-0.4368, 7.879], "nice": false, "zero": false, "reverse": true}, "axis": null}, "text": {"field": "t"}}},
   {"data": {"name": "legend"}, "transform": [{"filter": "datum.sup"}], "mark": {"type": "text", "align": "left", "baseline": "middle", "fontSize": 10, "dy": -6},
    "encoding": {"x": {"datum": 847, "scale": {"domain": [57.3, 750.3], "nice": false, "zero": false}, "axis": null}, "y": {"field": "i", "type": "quantitative", "scale": {"domain": [-0.4368, 7.879], "nice": false, "zero": false, "reverse": true}, "axis": null}, "text": {"field": "sup"}}},
   {"data": {"name": "legend"}, "transform": [{"filter": "datum.tail"}], "mark": {"type": "text", "align": "left", "baseline": "middle", "fontSize": 13.5},
    "encoding": {"x": {"datum": 863, "scale": {"domain": [57.3, 750.3], "nice": false, "zero": false}, "axis": null}, "y": {"field": "i", "type": "quantitative", "scale": {"domain": [-0.4368, 7.879], "nice": false, "zero": false, "reverse": true}, "axis": null}, "text": {"field": "tail"}}},
   {"data": {"name": "legend"}, "transform": [{"filter": "datum.sub"}], "mark": {"type": "text", "align": "left", "baseline": "middle", "fontSize": 10, "dy": 4},
    "encoding": {"x": {"datum": 836, "scale": {"domain": [57.3, 750.3], "nice": false, "zero": false}, "axis": null}, "y": {"field": "i", "type": "quantitative", "scale": {"domain": [-0.4368, 7.879], "nice": false, "zero": false, "reverse": true}, "axis": null}, "text": {"field": "sub"}}}
  ],
  "resolve": {"scale": {"x": "independent", "y": "independent", "color": "independent"}, "axis": {"x": "independent", "y": "independent"}}
 },
 {
  "width": 693, "height": 54,
  "data": {"name": "hist"},
  "transform": [
   {"filter": "datum.p == 'pr'"},
   {"calculate": "datum.b + 1", "as": "e"},
   {"calculate": "datum.b + 0.5", "as": "c"},
   {"calculate": "1 - datum.u", "as": "ulo"},
   {"calculate": "1 + datum.u", "as": "uhi"},
   {"calculate": "datum.r - datum.r / sqrt(datum.d)", "as": "rlo"},
   {"calculate": "datum.r + datum.r / sqrt(datum.d)", "as": "rhi"}
  ],
  "layer": [
   {"mark": {"type": "bar", "fill": "#b5b5b5", "clip": true},
    "encoding": {
     "x": {"field": "b", "type": "quantitative", "scale": {"domain": [0, 40], "nice": false, "zero": false}, "axis": {"orient": "bottom", "values": [0,2,4,6,8,10,12,14,16,18,20,22,24,26,28,30,32,34,36,38,40], "labelExpr": "datum.value % 10 == 0 ? '' + datum.value : ''", "labelPadding": 7, "title": "Bin number", "titleAngle": 0, "titleAlign": "right", "titleBaseline": "middle", "titleX": 693, "titleY": 24}},
     "x2": {"field": "e"},
     "y": {"field": "ulo", "type": "quantitative", "scale": {"domain": [0, 2], "nice": false, "zero": false}, "axis": {"orient": "left", "values": [0, 0.5, 1, 1.5, 2], "format": "~g", "labelPadding": 12, "title": "Data/Exp.", "titleAngle": -90, "titleAlign": "right", "titleBaseline": "middle", "titleX": -40, "titleY": 0}},
     "y2": {"field": "uhi"}}},
   {"mark": {"type": "rule", "color": "#000000", "strokeWidth": 1.2, "clip": true},
    "encoding": {
     "x": {"field": "b", "type": "quantitative", "scale": {"domain": [0, 40], "nice": false, "zero": false}, "axis": {"orient": "top", "values": [0,2,4,6,8,10,12,14,16,18,20,22,24,26,28,30,32,34,36,38,40], "labels": false, "title": null}},
     "x2": {"field": "e"},
     "y": {"field": "r", "type": "quantitative", "scale": {"domain": [0, 2], "nice": false, "zero": false}, "axis": {"orient": "right", "values": [0, 0.5, 1, 1.5, 2], "labels": false, "title": null}}}},
   {"mark": {"type": "rule", "color": "#555555", "strokeDash": [5, 3], "strokeWidth": 1.4},
    "encoding": {"y": {"datum": 1, "scale": {"domain": [0, 2], "nice": false, "zero": false}, "axis": null}}},
   {"mark": {"type": "rule", "color": "#000000", "strokeWidth": 1.2, "clip": true},
    "encoding": {"x": {"field": "c", "type": "quantitative", "scale": {"domain": [0, 40], "nice": false, "zero": false}, "axis": null}, "y": {"field": "rlo", "type": "quantitative", "scale": {"domain": [0, 2], "nice": false, "zero": false}, "axis": null}, "y2": {"field": "rhi"}}},
   {"mark": {"type": "point", "filled": true, "color": "#000000", "size": 22, "opacity": 1, "clip": true},
    "encoding": {"x": {"field": "c", "type": "quantitative", "scale": {"domain": [0, 40], "nice": false, "zero": false}, "axis": null}, "y": {"field": "r", "type": "quantitative", "scale": {"domain": [0, 2], "nice": false, "zero": false}, "axis": null}}},
   {"data": {"name": "regions"}, "transform": [{"filter": "datum.lo > 0"}],
    "mark": {"type": "rule", "color": "#000000", "strokeWidth": 1.5, "strokeDash": [2, 2]},
    "encoding": {"x": {"field": "lo", "type": "quantitative", "scale": {"domain": [0, 40], "nice": false, "zero": false}, "axis": null}}}
  ],
  "resolve": {"axis": {"x": "independent", "y": "independent"}}
 },
 {
  "width": 172.7, "height": 12, "view": {"stroke": null},
  "data": {"values": [{}]},
  "layer": [
   {"mark": {"type": "text"}, "encoding": {"x": {"datum": 0, "scale": {"domain": [0, 6.2832], "nice": false, "zero": false}, "axis": {"orient": "bottom", "values": [0, 1.5708, 3.1416, 4.7124, 6.2832], "labelExpr": "['0','π/2','π','3π/2','2π'][round(datum.value / 1.5708)]", "domain": true, "domainColor": "#000000", "domainWidth": 1, "tickSize": -4, "labelPadding": 6, "title": null}}, "text": {"value": ""}}},
   {"mark": {"type": "text", "fontSize": 13, "font": "DejaVu Sans", "baseline": "middle"}, "encoding": {"x": {"datum": 5.77, "scale": {"domain": [0, 6.2832], "nice": false, "zero": false}, "axis": null}, "y": {"datum": -1.75, "scale": {"domain": [0, 1], "nice": false, "zero": false}, "axis": null}, "text": {"value": "ϕ"}}},
   {"mark": {"type": "text", "fontSize": 9, "align": "left", "baseline": "middle"}, "encoding": {"x": {"datum": 5.97, "scale": {"domain": [0, 6.2832], "nice": false, "zero": false}, "axis": null}, "y": {"datum": -2.167, "scale": {"domain": [0, 1], "nice": false, "zero": false}, "axis": null}, "text": {"value": "CP"}}}
  ],
  "resolve": {"axis": {"x": "independent", "y": "independent"}}
 },
 {
  "width": 693, "height": 60, "view": {"stroke": null},
  "data": {"values": [{}]},
  "encoding": {"y": {"datum": 1, "scale": {"domain": [0, 60], "nice": false, "zero": false}, "axis": null}},
  "layer": [
   {"mark": {"type": "text", "fontWeight": "bold", "fontSize": 20, "align": "left", "baseline": "alphabetic"}, "encoding": {"x": {"datum": 0, "scale": {"domain": [0, 40], "nice": false, "zero": false}, "axis": null}, "text": {"value": "CMS"}}},
   {"mark": {"type": "text", "fontSize": 14, "align": "right", "baseline": "alphabetic"}, "encoding": {"x": {"datum": 20.57}, "text": {"value": "ρa"}}},
   {"mark": {"type": "text", "fontSize": 10, "align": "left", "baseline": "alphabetic", "dy": 3}, "encoding": {"x": {"datum": 20.6}, "text": {"value": "1"}}},
   {"mark": {"type": "text", "fontSize": 10, "align": "left", "baseline": "alphabetic", "dy": -7}, "encoding": {"x": {"datum": 20.6}, "text": {"value": "3pr"}}},
   {"mark": {"type": "text", "fontSize": 14, "align": "right", "baseline": "alphabetic"}, "encoding": {"x": {"datum": 35.52}, "text": {"value": "62.4 fb"}}},
   {"mark": {"type": "text", "fontSize": 10, "align": "left", "baseline": "alphabetic", "dy": -6}, "encoding": {"x": {"datum": 35.55}, "text": {"value": "-1"}}},
   {"mark": {"type": "text", "fontSize": 14, "align": "right", "baseline": "alphabetic"}, "encoding": {"x": {"datum": 40}, "text": {"value": "(13.6 TeV)"}}}
  ]
 },
 {
  "width": 693, "height": 158,
  "data": {"name": "hist"},
  "transform": [
   {"filter": "datum.p == 'ra'"},
   {"calculate": "datum.b + 1", "as": "e"},
   {"calculate": "datum.b + 0.5", "as": "c"},
   {"calculate": "datum.h * (1 - datum.u)", "as": "hlo"},
   {"calculate": "datum.h * (1 + datum.u)", "as": "hhi"},
   {"calculate": "datum.d - sqrt(datum.d)", "as": "dlo"},
   {"calculate": "datum.d + sqrt(datum.d)", "as": "dhi"}
  ],
  "layer": [
   {"mark": {"type": "bar", "fill": "#62bde6", "stroke": "#62bde6", "strokeWidth": 0.5, "clip": true},
    "encoding": {
     "x": {"field": "b", "type": "quantitative", "scale": {"domain": [0, 40], "nice": false, "zero": false}, "axis": {"orient": "bottom", "values": [0,2,4,6,8,10,12,14,16,18,20,22,24,26,28,30,32,34,36,38,40], "labels": false, "title": null}},
     "x2": {"field": "e"},
     "y": {"field": "o", "type": "quantitative", "scale": {"type": "log", "domain": [0.43, 640], "nice": false}, "axis": {"orient": "left", "values": [0.5,0.6,0.7,0.8,0.9,1,2,3,4,5,6,7,8,9,10,20,30,40,50,60,70,80,90,100,200,300,400,500,600], "labelExpr": "datum.value == 1 ? '1' : datum.value == 10 ? '10' : datum.value == 100 ? '10²' : ''", "labelPadding": 12, "title": "Events / bin", "titleAngle": -90, "titleAlign": "right", "titleBaseline": "middle", "titleX": -39, "titleY": 0}},
     "y2": {"datum": 0.01}}},
   {"mark": {"type": "bar", "fill": "#99bf6b", "stroke": "#99bf6b", "strokeWidth": 0.5, "clip": true},
    "encoding": {
     "x": {"field": "b", "type": "quantitative", "scale": {"domain": [0, 40], "nice": false, "zero": false}, "axis": {"orient": "top", "values": [0,2,4,6,8,10,12,14,16,18,20,22,24,26,28,30,32,34,36,38,40], "labels": false, "title": null}},
     "x2": {"field": "e"},
     "y": {"field": "j", "type": "quantitative", "scale": {"type": "log", "domain": [0.43, 640], "nice": false}, "axis": {"orient": "right", "values": [0.5,0.6,0.7,0.8,0.9,1,2,3,4,5,6,7,8,9,10,20,30,40,50,60,70,80,90,100,200,300,400,500,600], "labels": false, "title": null}},
     "y2": {"field": "o"}}},
   {"mark": {"type": "bar", "fill": "#ffa90e", "stroke": "#ffa90e", "strokeWidth": 0.5, "clip": true},
    "encoding": {"x": {"field": "b", "type": "quantitative", "scale": {"domain": [0, 40], "nice": false, "zero": false}, "axis": null}, "x2": {"field": "e"}, "y": {"field": "z", "type": "quantitative", "scale": {"type": "log", "domain": [0.43, 640], "nice": false}, "axis": null}, "y2": {"field": "j"}}},
   {"mark": {"type": "bar", "fill": "#3a3ad8", "stroke": "#3a3ad8", "strokeWidth": 0.5, "clip": true},
    "encoding": {"x": {"field": "b", "type": "quantitative", "scale": {"domain": [0, 40], "nice": false, "zero": false}, "axis": null}, "x2": {"field": "e"}, "y": {"field": "h", "type": "quantitative", "scale": {"type": "log", "domain": [0.43, 640], "nice": false}, "axis": null}, "y2": {"field": "z"}}},
   {"mark": {"type": "bar", "fill": "#8f8f8f", "opacity": 0.55, "clip": true},
    "encoding": {"x": {"field": "b", "type": "quantitative", "scale": {"domain": [0, 40], "nice": false, "zero": false}, "axis": null}, "x2": {"field": "e"}, "y": {"field": "hhi", "type": "quantitative", "scale": {"type": "log", "domain": [0.43, 640], "nice": false}, "axis": null}, "y2": {"field": "hlo"}}},
   {"transform": [{"fold": ["b", "e"], "as": ["k", "xe"]}],
    "encoding": {"x": {"field": "xe", "type": "quantitative", "scale": {"domain": [0, 40], "nice": false, "zero": false}, "axis": null}, "order": [{"field": "xe", "type": "quantitative"}, {"field": "k", "type": "ordinal", "sort": "descending"}]},
    "layer": [
     {"mark": {"type": "line", "color": "#000000", "strokeWidth": 1.2, "clip": true}, "encoding": {"y": {"field": "o", "type": "quantitative", "scale": {"type": "log", "domain": [0.43, 640], "nice": false}, "axis": null}}},
     {"mark": {"type": "line", "color": "#000000", "strokeWidth": 1.2, "clip": true}, "encoding": {"y": {"field": "j", "type": "quantitative"}}},
     {"mark": {"type": "line", "color": "#000000", "strokeWidth": 1.2, "clip": true}, "encoding": {"y": {"field": "z", "type": "quantitative"}}},
     {"mark": {"type": "line", "color": "#000000", "strokeWidth": 1.2, "clip": true}, "encoding": {"y": {"field": "h", "type": "quantitative"}}},
     {"mark": {"type": "line", "color": "#ff0000", "strokeWidth": 2.2, "clip": true}, "encoding": {"y": {"field": "s0", "type": "quantitative"}}},
     {"mark": {"type": "line", "color": "#0000ff", "strokeWidth": 2.2, "clip": true}, "encoding": {"y": {"field": "s90", "type": "quantitative"}}}
    ]},
   {"mark": {"type": "rule", "color": "#000000", "strokeWidth": 1.2, "clip": true},
    "encoding": {"x": {"field": "b", "type": "quantitative", "scale": {"domain": [0, 40], "nice": false, "zero": false}, "axis": null}, "x2": {"field": "e"}, "y": {"field": "d", "type": "quantitative", "scale": {"type": "log", "domain": [0.43, 640], "nice": false}, "axis": null}}},
   {"mark": {"type": "rule", "color": "#000000", "strokeWidth": 1.2, "clip": true},
    "encoding": {"x": {"field": "c", "type": "quantitative", "scale": {"domain": [0, 40], "nice": false, "zero": false}, "axis": null}, "y": {"field": "dlo", "type": "quantitative", "scale": {"type": "log", "domain": [0.43, 640], "nice": false}, "axis": null}, "y2": {"field": "dhi"}}},
   {"mark": {"type": "point", "filled": true, "color": "#000000", "size": 22, "opacity": 1, "clip": true},
    "encoding": {"x": {"field": "c", "type": "quantitative", "scale": {"domain": [0, 40], "nice": false, "zero": false}, "axis": null}, "y": {"field": "d", "type": "quantitative", "scale": {"type": "log", "domain": [0.43, 640], "nice": false}, "axis": null}}},
   {"data": {"name": "regions"}, "transform": [{"filter": "datum.lo > 0"}],
    "mark": {"type": "rule", "color": "#000000", "strokeWidth": 1.5, "strokeDash": [2, 2]},
    "encoding": {"x": {"field": "lo", "type": "quantitative", "scale": {"domain": [0, 40], "nice": false, "zero": false}, "axis": null}}},
   {"data": {"name": "regions"},
    "mark": {"type": "text", "fontSize": 11.5, "color": "#222222", "baseline": "middle"},
    "encoding": {"x": {"field": "mid", "type": "quantitative", "scale": {"domain": [0, 40], "nice": false, "zero": false}, "axis": null}, "y": {"datum": 328, "scale": {"type": "log", "domain": [0.43, 640], "nice": false}, "axis": null}, "text": {"field": "label"}}},
   {"data": {"name": "legend"}, "transform": [{"filter": "datum.i >= 1 && datum.i <= 4"}], "mark": {"type": "bar", "size": 13, "stroke": "#000000", "strokeWidth": 1},
    "encoding": {"x": {"datum": 765, "scale": {"domain": [57.3, 750.3], "nice": false, "zero": false}, "axis": null}, "x2": {"datum": 792}, "y": {"field": "i", "type": "quantitative", "scale": {"domain": [-0.4368, 7.879], "nice": false, "zero": false, "reverse": true}, "axis": null},
     "color": {"field": "kind", "type": "nominal", "scale": {"domain": ["sig", "z", "jet", "other"], "range": ["#3a3ad8", "#ffa90e", "#99bf6b", "#62bde6"]}, "legend": null}}},
   {"data": {"name": "legend"}, "transform": [{"filter": "datum.i == 5"}], "mark": {"type": "bar", "size": 13, "color": "#b8b8b8"},
    "encoding": {"x": {"datum": 765, "scale": {"domain": [57.3, 750.3], "nice": false, "zero": false}, "axis": null}, "x2": {"datum": 792}, "y": {"field": "i", "type": "quantitative", "scale": {"domain": [-0.4368, 7.879], "nice": false, "zero": false, "reverse": true}, "axis": null}}},
   {"data": {"name": "legend"}, "transform": [{"filter": "datum.i == 0"}], "mark": {"type": "rule", "color": "#000000", "strokeWidth": 1.2},
    "encoding": {"x": {"datum": 765, "scale": {"domain": [57.3, 750.3], "nice": false, "zero": false}, "axis": null}, "x2": {"datum": 792}, "y": {"field": "i", "type": "quantitative", "scale": {"domain": [-0.4368, 7.879], "nice": false, "zero": false, "reverse": true}, "axis": null}}},
   {"data": {"name": "legend"}, "transform": [{"filter": "datum.i == 0"}], "mark": {"type": "tick", "orient": "vertical", "size": 9, "thickness": 1.2, "color": "#000000"},
    "encoding": {"x": {"datum": 778.5, "scale": {"domain": [57.3, 750.3], "nice": false, "zero": false}, "axis": null}, "y": {"field": "i", "type": "quantitative", "scale": {"domain": [-0.4368, 7.879], "nice": false, "zero": false, "reverse": true}, "axis": null}}},
   {"data": {"name": "legend"}, "transform": [{"filter": "datum.i == 0"}], "mark": {"type": "point", "filled": true, "size": 22, "color": "#000000", "opacity": 1},
    "encoding": {"x": {"datum": 778.5, "scale": {"domain": [57.3, 750.3], "nice": false, "zero": false}, "axis": null}, "y": {"field": "i", "type": "quantitative", "scale": {"domain": [-0.4368, 7.879], "nice": false, "zero": false, "reverse": true}, "axis": null}}},
   {"data": {"name": "legend"}, "transform": [{"filter": "datum.i >= 6"}], "mark": {"type": "rule", "strokeWidth": 2.5},
    "encoding": {"x": {"datum": 765, "scale": {"domain": [57.3, 750.3], "nice": false, "zero": false}, "axis": null}, "x2": {"datum": 792}, "y": {"field": "i", "type": "quantitative", "scale": {"domain": [-0.4368, 7.879], "nice": false, "zero": false, "reverse": true}, "axis": null},
     "color": {"field": "kind", "type": "nominal", "scale": {"domain": ["a0", "a90"], "range": ["#ff0000", "#0000ff"]}, "legend": null}}},
   {"data": {"name": "legend"}, "mark": {"type": "text", "align": "left", "baseline": "middle", "fontSize": 13.5},
    "encoding": {"x": {"datum": 797, "scale": {"domain": [57.3, 750.3], "nice": false, "zero": false}, "axis": null}, "y": {"field": "i", "type": "quantitative", "scale": {"domain": [-0.4368, 7.879], "nice": false, "zero": false, "reverse": true}, "axis": null}, "text": {"field": "t"}}},
   {"data": {"name": "legend"}, "transform": [{"filter": "datum.sup"}], "mark": {"type": "text", "align": "left", "baseline": "middle", "fontSize": 10, "dy": -6},
    "encoding": {"x": {"datum": 847, "scale": {"domain": [57.3, 750.3], "nice": false, "zero": false}, "axis": null}, "y": {"field": "i", "type": "quantitative", "scale": {"domain": [-0.4368, 7.879], "nice": false, "zero": false, "reverse": true}, "axis": null}, "text": {"field": "sup"}}},
   {"data": {"name": "legend"}, "transform": [{"filter": "datum.tail"}], "mark": {"type": "text", "align": "left", "baseline": "middle", "fontSize": 13.5},
    "encoding": {"x": {"datum": 863, "scale": {"domain": [57.3, 750.3], "nice": false, "zero": false}, "axis": null}, "y": {"field": "i", "type": "quantitative", "scale": {"domain": [-0.4368, 7.879], "nice": false, "zero": false, "reverse": true}, "axis": null}, "text": {"field": "tail"}}},
   {"data": {"name": "legend"}, "transform": [{"filter": "datum.sub"}], "mark": {"type": "text", "align": "left", "baseline": "middle", "fontSize": 10, "dy": 4},
    "encoding": {"x": {"datum": 836, "scale": {"domain": [57.3, 750.3], "nice": false, "zero": false}, "axis": null}, "y": {"field": "i", "type": "quantitative", "scale": {"domain": [-0.4368, 7.879], "nice": false, "zero": false, "reverse": true}, "axis": null}, "text": {"field": "sub"}}}
  ],
  "resolve": {"scale": {"x": "independent", "y": "independent", "color": "independent"}, "axis": {"x": "independent", "y": "independent"}}
 },
 {
  "width": 693, "height": 54,
  "data": {"name": "hist"},
  "transform": [
   {"filter": "datum.p == 'ra'"},
   {"calculate": "datum.b + 1", "as": "e"},
   {"calculate": "datum.b + 0.5", "as": "c"},
   {"calculate": "1 - datum.u", "as": "ulo"},
   {"calculate": "1 + datum.u", "as": "uhi"},
   {"calculate": "datum.r - datum.r / sqrt(datum.d)", "as": "rlo"},
   {"calculate": "datum.r + datum.r / sqrt(datum.d)", "as": "rhi"}
  ],
  "layer": [
   {"mark": {"type": "bar", "fill": "#b5b5b5", "clip": true},
    "encoding": {
     "x": {"field": "b", "type": "quantitative", "scale": {"domain": [0, 40], "nice": false, "zero": false}, "axis": {"orient": "bottom", "values": [0,2,4,6,8,10,12,14,16,18,20,22,24,26,28,30,32,34,36,38,40], "labelExpr": "datum.value % 10 == 0 ? '' + datum.value : ''", "labelPadding": 7, "title": "Bin number", "titleAngle": 0, "titleAlign": "right", "titleBaseline": "middle", "titleX": 693, "titleY": 24}},
     "x2": {"field": "e"},
     "y": {"field": "ulo", "type": "quantitative", "scale": {"domain": [0, 2], "nice": false, "zero": false}, "axis": {"orient": "left", "values": [0, 0.5, 1, 1.5, 2], "format": "~g", "labelPadding": 12, "title": "Data/Exp.", "titleAngle": -90, "titleAlign": "right", "titleBaseline": "middle", "titleX": -40, "titleY": 0}},
     "y2": {"field": "uhi"}}},
   {"mark": {"type": "rule", "color": "#000000", "strokeWidth": 1.2, "clip": true},
    "encoding": {
     "x": {"field": "b", "type": "quantitative", "scale": {"domain": [0, 40], "nice": false, "zero": false}, "axis": {"orient": "top", "values": [0,2,4,6,8,10,12,14,16,18,20,22,24,26,28,30,32,34,36,38,40], "labels": false, "title": null}},
     "x2": {"field": "e"},
     "y": {"field": "r", "type": "quantitative", "scale": {"domain": [0, 2], "nice": false, "zero": false}, "axis": {"orient": "right", "values": [0, 0.5, 1, 1.5, 2], "labels": false, "title": null}}}},
   {"mark": {"type": "rule", "color": "#555555", "strokeDash": [5, 3], "strokeWidth": 1.4},
    "encoding": {"y": {"datum": 1, "scale": {"domain": [0, 2], "nice": false, "zero": false}, "axis": null}}},
   {"mark": {"type": "rule", "color": "#000000", "strokeWidth": 1.2, "clip": true},
    "encoding": {"x": {"field": "c", "type": "quantitative", "scale": {"domain": [0, 40], "nice": false, "zero": false}, "axis": null}, "y": {"field": "rlo", "type": "quantitative", "scale": {"domain": [0, 2], "nice": false, "zero": false}, "axis": null}, "y2": {"field": "rhi"}}},
   {"mark": {"type": "point", "filled": true, "color": "#000000", "size": 22, "opacity": 1, "clip": true},
    "encoding": {"x": {"field": "c", "type": "quantitative", "scale": {"domain": [0, 40], "nice": false, "zero": false}, "axis": null}, "y": {"field": "r", "type": "quantitative", "scale": {"domain": [0, 2], "nice": false, "zero": false}, "axis": null}}},
   {"data": {"name": "regions"}, "transform": [{"filter": "datum.lo > 0"}],
    "mark": {"type": "rule", "color": "#000000", "strokeWidth": 1.5, "strokeDash": [2, 2]},
    "encoding": {"x": {"field": "lo", "type": "quantitative", "scale": {"domain": [0, 40], "nice": false, "zero": false}, "axis": null}}}
  ],
  "resolve": {"axis": {"x": "independent", "y": "independent"}}
 },
 {
  "width": 172.7, "height": 12, "view": {"stroke": null},
  "data": {"values": [{}]},
  "layer": [
   {"mark": {"type": "text"}, "encoding": {"x": {"datum": 0, "scale": {"domain": [0, 6.2832], "nice": false, "zero": false}, "axis": {"orient": "bottom", "values": [0, 1.5708, 3.1416, 4.7124, 6.2832], "labelExpr": "['0','π/2','π','3π/2','2π'][round(datum.value / 1.5708)]", "domain": true, "domainColor": "#000000", "domainWidth": 1, "tickSize": -4, "labelPadding": 6, "title": null}}, "text": {"value": ""}}},
   {"mark": {"type": "text", "fontSize": 13, "font": "DejaVu Sans", "baseline": "middle"}, "encoding": {"x": {"datum": 5.77, "scale": {"domain": [0, 6.2832], "nice": false, "zero": false}, "axis": null}, "y": {"datum": -1.75, "scale": {"domain": [0, 1], "nice": false, "zero": false}, "axis": null}, "text": {"value": "ϕ"}}},
   {"mark": {"type": "text", "fontSize": 9, "align": "left", "baseline": "middle"}, "encoding": {"x": {"datum": 5.97, "scale": {"domain": [0, 6.2832], "nice": false, "zero": false}, "axis": null}, "y": {"datum": -2.167, "scale": {"domain": [0, 1], "nice": false, "zero": false}, "axis": null}, "text": {"value": "CP"}}}
  ],
  "resolve": {"axis": {"x": "independent", "y": "independent"}}
 }
]
}
